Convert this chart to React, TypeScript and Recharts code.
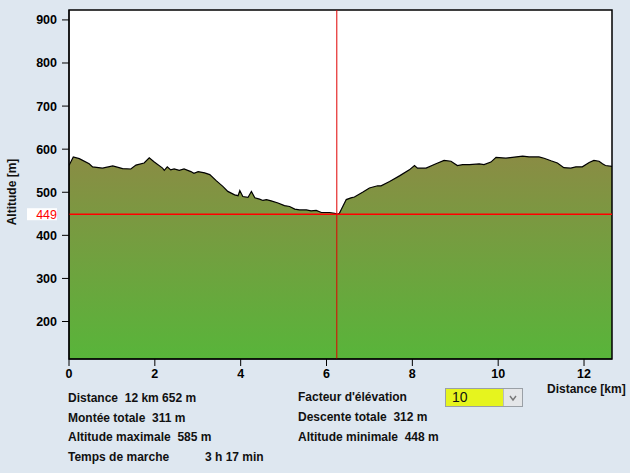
import { Area, AreaChart, CartesianGrid, ReferenceArea, ReferenceLine, XAxis, YAxis } from 'recharts'

// profile: distance in km, altitude in m
const distances = [
  0, 0.1, 0.24, 0.47, 0.55, 0.78, 1.02, 1.25, 1.44, 1.56, 1.75, 1.87, 1.98, 2.18, 2.22, 2.29,
  2.37, 2.45, 2.57, 2.68, 2.84, 2.91, 3.01, 3.16, 3.28, 3.43, 3.59, 3.7, 3.86, 3.94, 3.98, 4.05,
  4.17, 4.25, 4.33, 4.44, 4.52, 4.6, 4.71, 4.87, 5.02, 5.14, 5.26, 5.37, 5.53, 5.64, 5.76, 5.88,
  6.07, 6.19, 6.26, 6.3, 6.46, 6.57, 6.65, 6.84, 7.0, 7.19, 7.27, 7.47, 7.7, 7.93, 8.05, 8.12,
  8.32, 8.55, 8.74, 8.9, 9.05, 9.17, 9.33, 9.56, 9.67, 9.83, 9.95, 10.18, 10.33, 10.57, 10.72,
  10.95, 11.07, 11.23, 11.38, 11.53, 11.69, 11.81, 11.96, 12.12, 12.23, 12.35, 12.43, 12.5, 12.652,
]
const altitudes = [
  562, 582, 578, 566, 559, 556, 561, 555, 554, 563, 568, 580, 571, 556, 551, 559,
  552, 554, 551, 554, 548, 544, 548, 545, 541, 527, 513, 502, 494, 492, 504, 490,
  488, 502, 487, 484, 481, 483, 480, 475, 469, 467, 461, 459, 459, 457, 458, 453,
  453, 451, 449, 451, 483, 487, 489, 500, 510, 515, 515, 525, 538, 552, 562, 556,
  556, 566, 574, 572, 562, 564, 564, 566, 564, 570, 581, 579, 581, 584, 582,
  582, 579, 573, 568, 557, 556, 559, 559, 569, 574, 572, 566, 562, 560,
]

const xTicks = [0, 2, 4, 6, 8, 10, 12]
const yTicks = [200, 300, 400, 500, 600, 700, 800, 900]
const xDomain = [0, 12.652]
const yDomain = [113, 923]
const lowestAltitude = 449
const lowestPointKm = 6.24

const leftInfo = [
  ['Distance', '12 km 652 m'],
  ['Montée totale', '311 m'],
  ['Altitude maximale', '585 m'],
]
const rightInfo = [
  ['Descente totale', '312 m'],
  ['Altitude minimale', '448 m'],
]

const data = distances.map((km, i) => ({ km, alt: altitudes[i] }))

const FONT = '"Liberation Sans", Arial, sans-serif'
const tickStyle = { fontSize: 12.5, fontWeight: 'bold', fill: '#000', fontFamily: FONT }

function MinLabel(props: any) {
  const { viewBox } = props
  const x = viewBox.x
  const y = viewBox.y
  return (
    <g>
      <rect x={x - 42} y={y - 6} width={30} height={12} fill="#fff" />
      <text x={x - 12} y={y} dy="0.35em" textAnchor="end" fill="#ff0000" fontSize={12.5} fontFamily={FONT}>
        {lowestAltitude}
      </text>
    </g>
  )
}

const textStyle: any = {
  position: 'absolute',
  fontSize: 12,
  fontWeight: 'bold',
  color: '#111',
  whiteSpace: 'pre',
  lineHeight: '14px',
}

export default function App() {
  return (
    <div
      style={{
        position: 'absolute',
        left: 0,
        top: 0,
        width: 630,
        height: 473,
        background: '#dee7f0',
        fontFamily: FONT,
        overflow: 'hidden',
      }}
    >
      <AreaChart width={630} height={473} data={data} margin={{ top: 10, right: 18, left: 0, bottom: 84 }}>
        <defs>
          <linearGradient id="terrain" x1="0" y1="0" x2="0" y2="1">
            <stop offset="0%" stopColor="#8a8c44" />
            <stop offset="100%" stopColor="#58b53a" />
          </linearGradient>
        </defs>
        <CartesianGrid fill="#ffffff" horizontal={false} vertical={false} />
        <XAxis
          dataKey="km"
          type="number"
          domain={xDomain}
          ticks={xTicks}
          allowDataOverflow
          height={30}
          tickSize={7}
          tickMargin={3}
          tick={tickStyle}
          axisLine={{ stroke: '#000' }}
          tickLine={{ stroke: '#000' }}
        />
        <YAxis
          type="number"
          domain={yDomain}
          ticks={yTicks}
          allowDataOverflow
          width={69}
          tickSize={7}
          tickMargin={5}
          tick={tickStyle}
          axisLine={{ stroke: '#000' }}
          tickLine={{ stroke: '#000' }}
        />
        <Area
          type="linear"
          dataKey="alt"
          stroke="#000"
          strokeWidth={1.2}
          fill="url(#terrain)"
          fillOpacity={1}
          isAnimationActive={false}
          dot={false}
          activeDot={false}
        />
        <ReferenceLine y={lowestAltitude} stroke="#ff0000" strokeWidth={1.5} label={<MinLabel />} />
        <ReferenceLine x={lowestPointKm} stroke="#e00000" strokeWidth={1} />
        <ReferenceArea
          x1={xDomain[0]}
          x2={xDomain[1]}
          y1={yDomain[0]}
          y2={yDomain[1]}
          fill="none"
          fillOpacity={0}
          stroke="#000"
          strokeWidth={1.5}
        />
      </AreaChart>

      <div
        style={{
          ...textStyle,
          left: 12,
          top: 192,
          transform: 'translate(-50%, -50%) rotate(-90deg)',
        }}
      >
        Altitude [m]
      </div>
      <div style={{ ...textStyle, left: 547, top: 382 }}>Distance [km]</div>

      {leftInfo.map(([k, v], i) => (
        <div key={k} style={{ ...textStyle, left: 68, top: 391 + i * 19.5 }}>
          {k}  {v}
        </div>
      ))}
      <div style={{ ...textStyle, left: 68, top: 450 }}>Temps de marche</div>
      <div style={{ ...textStyle, left: 205, top: 450 }}>3 h 17 min</div>

      <div style={{ ...textStyle, left: 298, top: 390 }}>Facteur d'élévation</div>
      {rightInfo.map(([k, v], i) => (
        <div key={k} style={{ ...textStyle, left: 298, top: 410 + i * 20 }}>
          {k}  {v}
        </div>
      ))}

      <div
        style={{
          position: 'absolute',
          left: 445,
          top: 388,
          width: 76,
          height: 17,
          border: '1px solid #9aa0a6',
          background: '#e6f41e',
        }}
      >
        <div style={{ position: 'absolute', left: 6, top: 0, fontSize: 14, lineHeight: '17px', color: '#111' }}>10</div>
        <div
          style={{
            position: 'absolute',
            right: 0,
            top: 0,
            width: 18,
            height: 17,
            background: '#e4e6e8',
            borderLeft: '1px solid #b8bcc0',
          }}
        >
          <svg width={18} height={17}>
            <polyline points="6,7 9,11 12,7" fill="none" stroke="#777" strokeWidth={1.4} />
          </svg>
        </div>
      </div>
    </div>
  )
}
